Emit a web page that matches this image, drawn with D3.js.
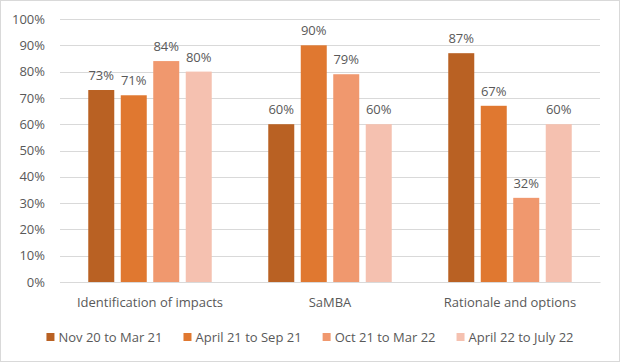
<!DOCTYPE html>
<html><head><meta charset="utf-8">
<script src="https://cdn.jsdelivr.net/npm/d3@7"></script>
<style>body{margin:0;background:#fff}svg{display:block}</style>
</head><body>
<svg id="c" width="620" height="362"></svg>
<script>
const categories = ["Identification of impacts", "SaMBA", "Rationale and options"];
const seriesNames = ["Nov 20 to Mar 21", "April 21 to Sep 21", "Oct 21 to Mar 22", "April 22 to July 22"];
const nov20 = [73, 60, 87];
const apr21 = [71, 90, 67];
const oct21 = [84, 79, 32];
const apr22 = [80, 60, 60];
const yTicks = [0, 10, 20, 30, 40, 50, 60, 70, 80, 90, 100];
const colors = ["#B96123", "#E07830", "#F0986E", "#F5C1B0"];

(function () {
const series = [nov20, apr21, oct21, apr22];
const font = "'Open Sans', sans-serif";
const txt = "#595959";
const svg = d3.select("#c");
svg.append("rect").attr("x",0.5).attr("y",0.5).attr("width",619).attr("height",361)
  .attr("fill","#fff").attr("stroke","#d9d9d9");

const pl = 60, pr = 600, pt = 19, pb = 282;
const x0 = d3.scaleBand().domain(categories).range([pl, pr]);
const x1 = d3.scaleBand().domain(d3.range(4)).range([0, x0.bandwidth()]).paddingInner(0.2).paddingOuter(0.87);
const y = d3.scaleLinear().domain([0, 100]).range([pb, pt]);

const grid = svg.append("g");
grid.selectAll("line").data(yTicks).join("line")
  .attr("x1", pl).attr("x2", pr)
  .attr("y1", d => Math.round(y(d)) + 0.5).attr("y2", d => Math.round(y(d)) + 0.5)
  .attr("stroke", "#d9d9d9").attr("stroke-width", 1);

const yAxis = svg.append("g").attr("transform", `translate(${pl},0)`)
  .call(d3.axisLeft(y).tickValues(yTicks).tickFormat(d => d + "%").tickSize(0).tickPadding(15));
yAxis.select(".domain").remove();
yAxis.selectAll("text").attr("fill", txt).style("font-family", font).style("font-size", "13px");

const g = svg.append("g");
categories.forEach((c, ci) => {
  series.forEach((s, si) => {
    const bx = x0(c) + x1(si);
    g.append("rect").attr("x", bx).attr("width", x1.bandwidth())
      .attr("y", y(s[ci])).attr("height", pb - y(s[ci])).attr("fill", colors[si]);
    g.append("text").attr("x", bx + x1.bandwidth() / 2).attr("y", y(s[ci]) - 10)
      .attr("text-anchor", "middle").attr("fill", txt)
      .style("font-family", font).style("font-size", "13px").text(s[ci] + "%");
  });
});

const xAxis = svg.append("g").attr("transform", `translate(0,${pb})`)
  .call(d3.axisBottom(x0).tickSize(0).tickPadding(16));
xAxis.select(".domain").attr("stroke", "#d9d9d9");
xAxis.selectAll("text").attr("fill", txt).style("font-family", font).style("font-size", "13px");

const leg = svg.append("g");
let lx = 0;
const gap = 21;
seriesNames.forEach((n, i) => {
  const it = leg.append("g");
  it.append("rect").attr("x", 0).attr("y", -4).attr("width", 8).attr("height", 8).attr("fill", colors[i]);
  const t = it.append("text").attr("x", 12).attr("y", 0).attr("dy", "0.35em").attr("fill", txt)
    .style("font-family", font).style("font-size", "13px").text(n);
  it.attr("transform", `translate(${lx},0)`);
  lx += 12 + t.node().getComputedTextLength() + gap;
});
lx -= gap;
leg.attr("transform", `translate(${(620 - lx) / 2},337)`);
})();
</script>
</body></html>
